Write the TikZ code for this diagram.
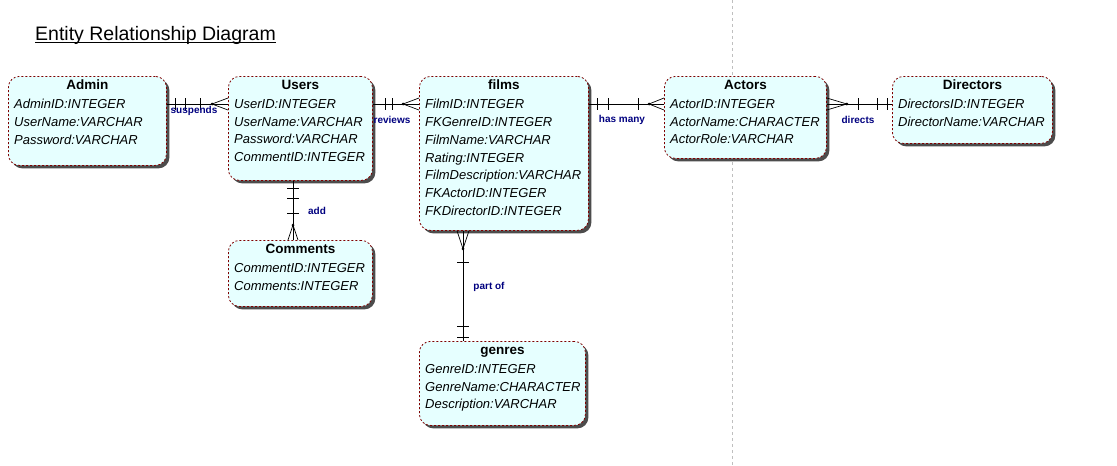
\documentclass[tikz,border=0pt]{standalone}
\usepackage{fontspec}
\setmainfont{Liberation Sans}
\usepackage{tikz}
\usetikzlibrary{positioning, shadows, calc}
\definecolor{boxfill}{HTML}{E6FFFF}
\definecolor{boxline}{HTML}{800000}
\definecolor{relblue}{HTML}{000080}
\tikzstyle{entity} = [rectangle, rounded corners=11pt, anchor=north west, inner sep=0pt, draw=boxline, dash pattern=on 2pt off 2pt, line width=0.8pt, fill=boxfill, drop shadow={shadow xshift=3pt, shadow yshift=-3pt, fill=black!70, opacity=1}]
\tikzstyle{etitle} = [anchor=base, inner sep=0pt, font=\fontsize{13.5}{16}\selectfont\bfseries]
\tikzstyle{attrs} = [anchor=north west, align=left, inner sep=0pt, font=\fontsize{13}{17.8}\selectfont\itshape, execute at begin node=\strut]
\tikzstyle{rel} = [line width=0.7pt]
\tikzstyle{rlabel} = [inner sep=0pt, text=relblue, font=\fontsize{10}{12}\selectfont\bfseries]

\begin{document}
\begin{tikzpicture}[x=1pt, y=1pt]
    \fill[white] (0,0) rectangle (1117,-466);
    \useasboundingbox (0,0) rectangle (1117,-466);

    % Page break
    \draw[gray!50, dash pattern=on 3pt off 3pt] (732,0) -- (732,-466);

    % Title
    \node[anchor=base west, inner sep=0pt, font=\fontsize{19.5}{22}\selectfont] (title) at (35,-40) {Entity Relationship Diagram};
    \draw[line width=0.9pt] ([yshift=-2.5]title.base west) -- ([yshift=-2.5]title.base east);

    % Entities
    \node[entity, minimum width=158pt, minimum height=89pt] (admin) at (8,-76) {};
    \node[etitle] (admint) at ([yshift=-13]admin.north) {Admin};
    \node[attrs] (admina) at ([shift={(6,-23)}]admin.north west) {AdminID:INTEGER\\UserName:VARCHAR\\Password:VARCHAR};

    \node[entity, minimum width=144pt, minimum height=104pt] (users) at (228,-76) {};
    \node[etitle] (userst) at ([yshift=-13]users.north) {Users};
    \node[attrs] (usersa) at ([shift={(6,-23)}]users.north west) {UserID:INTEGER\\UserName:VARCHAR\\Password:VARCHAR\\CommentID:INTEGER};

    \node[entity, minimum width=169pt, minimum height=154pt] (films) at (419,-76) {};
    \node[etitle] (filmst) at ([yshift=-13]films.north) {films};
    \node[attrs] (filmsa) at ([shift={(6,-23)}]films.north west) {FilmID:INTEGER\\FKGenreID:INTEGER\\FilmName:VARCHAR\\Rating:INTEGER\\FilmDescription:VARCHAR\\FKActorID:INTEGER\\FKDirectorID:INTEGER};

    \node[entity, minimum width=162pt, minimum height=82pt] (actors) at (664,-76) {};
    \node[etitle] (actorst) at ([yshift=-13]actors.north) {Actors};
    \node[attrs] (actorsa) at ([shift={(6,-23)}]actors.north west) {ActorID:INTEGER\\ActorName:CHARACTER\\ActorRole:VARCHAR};

    \node[entity, minimum width=160pt, minimum height=67pt] (directors) at (892,-76) {};
    \node[etitle] (directorst) at ([yshift=-13]directors.north) {Directors};
    \node[attrs] (directorsa) at ([shift={(6,-23)}]directors.north west) {DirectorsID:INTEGER\\DirectorName:VARCHAR};

    \node[entity, minimum width=144pt, minimum height=66pt] (comments) at (228,-240) {};
    \node[etitle] (commentst) at ([yshift=-13]comments.north) {Comments};
    \node[attrs] (commentsa) at ([shift={(6,-23)}]comments.north west) {CommentID:INTEGER\\Comments:INTEGER};

    \node[entity, minimum width=166pt, minimum height=84pt] (genres) at (419,-341) {};
    \node[etitle] (genrest) at ([yshift=-13]genres.north) {genres};
    \node[attrs] (genresa) at ([shift={(6,-23)}]genres.north west) {GenreID:INTEGER\\GenreName:CHARACTER\\Description:VARCHAR};

    % Relationships
    \draw[rel] ([yshift=-28]admin.north east) coordinate (au1) -- ([yshift=-28]users.north west) coordinate (au2);
    \foreach \d in {9,19,34} \draw[rel] ([xshift=\d]au1) ++(0,6) -- ++(0,-12);
    \draw[rel] ([yshift=6]au2) -- ([xshift=-16]au2) -- ([yshift=-6]au2);
    \fill ([xshift=-16]au2) circle (1.5);

    \draw[rel] ([yshift=-28]users.north east) coordinate (uf1) -- ([yshift=-28]films.north west) coordinate (uf2);
    \foreach \d in {13,20} \draw[rel] ([xshift=\d]uf1) ++(0,6) -- ++(0,-12);
    \draw[rel] ([yshift=6]uf2) -- ([xshift=-16]uf2) -- ([yshift=-6]uf2);
    \fill ([xshift=-16]uf2) circle (1.5);

    \draw[rel] ([yshift=-28]films.north east) coordinate (fa1) -- ([yshift=-28]actors.north west) coordinate (fa2);
    \foreach \d in {9,20,50} \draw[rel] ([xshift=\d]fa1) ++(0,6) -- ++(0,-12);
    \draw[rel] ([yshift=6]fa2) -- ([xshift=-15]fa2) -- ([yshift=-6]fa2);
    \fill ([xshift=-15]fa2) circle (1.5);

    \draw[rel] ([yshift=-28]actors.north east) coordinate (ad1) -- ([yshift=-28]directors.north west) coordinate (ad2);
    \foreach \d in {32,51,61} \draw[rel] ([xshift=\d]ad1) ++(0,6) -- ++(0,-12);
    \draw[rel] ([yshift=6]ad1) -- ([xshift=20]ad1) -- ([yshift=-6]ad1);
    \fill ([xshift=20]ad1) circle (1.5);

    \draw[rel] ([xshift=65]users.south west) coordinate (uc1) -- ([xshift=65]comments.north west) coordinate (uc2);
    \foreach \d in {8,18,33} \draw[rel] ([yshift=-\d]uc1) ++(-6,0) -- ++(12,0);
    \draw[rel] ([xshift=-5]uc2) -- ([yshift=15]uc2) -- ([xshift=5]uc2);
    \fill ([yshift=15]uc2) circle (1.5);

    \draw[rel] ([xshift=44]films.south west) coordinate (fg1) -- ([xshift=44]genres.north west) coordinate (fg2);
    \foreach \d in {32,96,107} \draw[rel] ([yshift=-\d]fg1) ++(-6,0) -- ++(12,0);
    \draw[rel] ([xshift=-6]fg1) -- ([yshift=-18]fg1) -- ([xshift=6]fg1);
    \fill ([yshift=-18]fg1) circle (1.5);

    % Relationship labels
    \node[rlabel] (lsuspends) at (194,-111) {suspends};
    \node[rlabel] (lreviews) at (392,-120) {reviews};
    \node[rlabel] (lhasmany) at (622,-120) {has many};
    \node[rlabel] (ldirects) at (858,-120) {directs};
    \node[rlabel] (ladd) at (317,-211) {add};
    \node[rlabel] (lpartof) at (489,-287) {part of};
\end{tikzpicture}
\end{document}
